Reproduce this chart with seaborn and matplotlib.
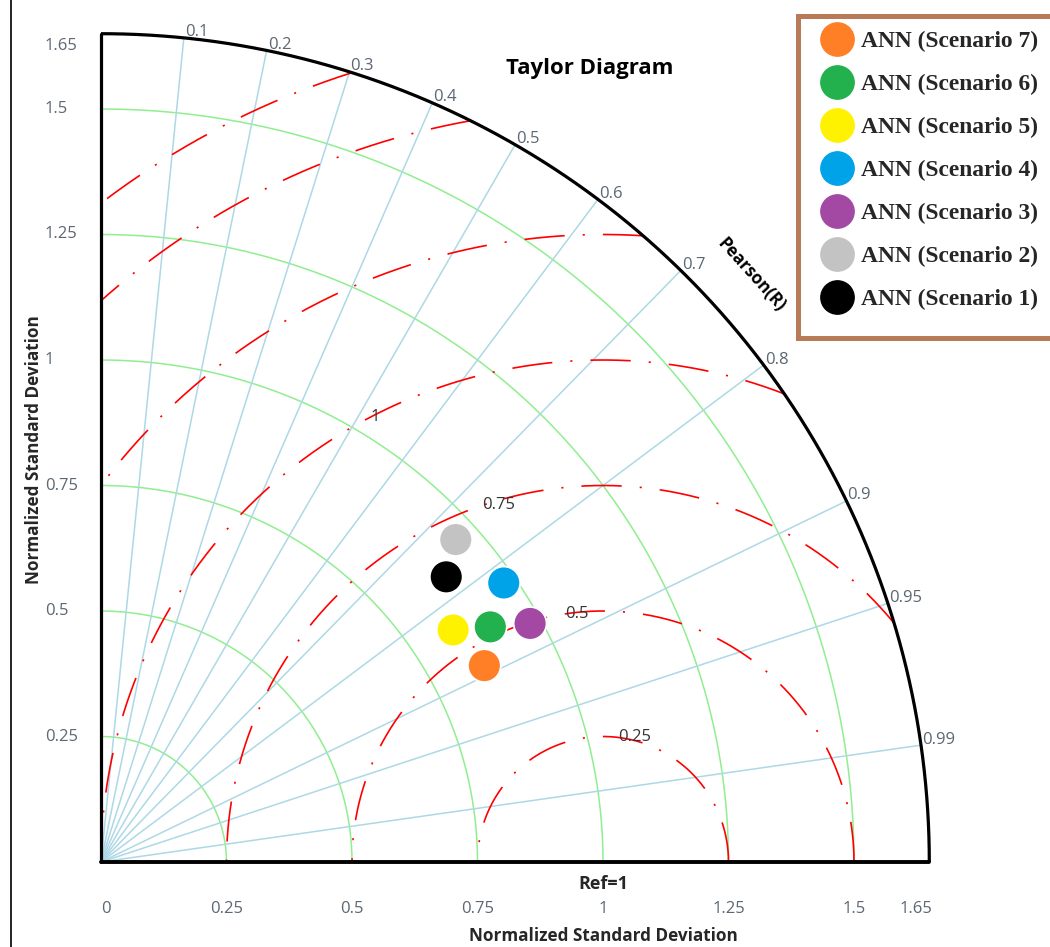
import numpy as np
import pandas as pd
import matplotlib
matplotlib.use("Agg")
import matplotlib.pyplot as plt
import seaborn as sns
from matplotlib.lines import Line2D
from matplotlib.patches import Rectangle
from matplotlib.font_manager import FontProperties

# ---------------- data ----------------
scenarios = ["ANN (Scenario 7)", "ANN (Scenario 6)", "ANN (Scenario 5)",
             "ANN (Scenario 4)", "ANN (Scenario 3)", "ANN (Scenario 2)",
             "ANN (Scenario 1)"]
std_values = [0.858, 0.906, 0.840, 0.976, 0.978, 0.955, 0.892]
corr_values = [0.890, 0.856, 0.835, 0.822, 0.874, 0.740, 0.771]
colors = ["#ff7f27", "#22b14c", "#fff200", "#00a2e8", "#a349a4", "#c3c3c3", "#000000"]

std_ticks = [0, 0.25, 0.5, 0.75, 1, 1.25, 1.5, 1.65]
std_tick_labels = ["0", "0.25", "0.5", "0.75", "1", "1.25", "1.5", "1.65"]
std_arcs = [0.25, 0.5, 0.75, 1, 1.25, 1.5]
corr_ticks = [0.1, 0.2, 0.3, 0.4, 0.5, 0.6, 0.7, 0.8, 0.9, 0.95, 0.99]
corr_tick_labels = ["0.1", "0.2", "0.3", "0.4", "0.5", "0.6", "0.7", "0.8", "0.9", "0.95", "0.99"]
rms_levels = [0.25, 0.5, 0.75, 1, 1.25, 1.5, 1.65]
rms_labeled = [0.25, 0.5, 0.75, 1]
rms_label_text = ["0.25", "0.5", "0.75", "1"]
rms_label_angle = [83, 98.6, 108.7, 117.6]  # degrees around reference point
ref_std = 1.0
max_std = 1.65

# ---------------- style ----------------
sns.set_theme(style="white")
plt.rcParams["font.family"] = ["Open Sans", "DejaVu Sans"]
plt.rcParams["lines.scale_dashes"] = False

W, H = 1050, 947
fig = plt.figure(figsize=(W / 100, H / 100), dpi=100)
ax = fig.add_axes([0, 0, 1, 1])
ox, oy, sc = 101, 862, 502.0

tick_color = "#5b6773"
green = "#90ee90"
blue = "#add8e6"
tick_fs = 12

theta = np.linspace(0, np.pi / 2, 400)
# std arcs
for r in std_arcs:
    ax.plot(r * np.cos(theta), r * np.sin(theta), color=green, lw=1.1, zorder=1)

# correlation lines
for c, lab in zip(corr_ticks, corr_tick_labels):
    t = np.arccos(c)
    ax.plot([0, max_std * np.cos(t)], [0, max_std * np.sin(t)], color=blue, lw=1.1, zorder=1)
    ax.text(max_std * np.cos(t) + 0.002, max_std * np.sin(t) - 0.005, lab, ha="left", va="bottom",
            fontsize=tick_fs, color=tick_color, zorder=6)

# RMS arcs
phi = np.linspace(0, np.pi, 1500)
for r in rms_levels:
    x = ref_std + r * np.cos(phi)
    y = r * np.sin(phi)
    m = (x >= 0) & (x ** 2 + y ** 2 <= max_std ** 2)
    x = np.where(m, x, np.nan)
    y = np.where(m, y, np.nan)
    ax.plot(x, y, color="red", lw=1.2, dashes=(29, 13, 1.5, 13), zorder=2)
for r, lab, a in zip(rms_labeled, rms_label_text, rms_label_angle):
    aa = np.deg2rad(a)
    ax.text(ref_std + r * np.cos(aa), r * np.sin(aa), lab, ha="left", va="center",
            fontsize=tick_fs, color="#333333", zorder=6)

# outer arc and axes
ax.plot(max_std * np.cos(theta), max_std * np.sin(theta), color="black", lw=2.3, zorder=3,
        solid_capstyle="butt")
ax.plot([0, 0], [0, max_std], color="black", lw=2.3, zorder=3)
ax.plot([0, max_std], [0, 0], color="black", lw=2.8, zorder=3)

# std tick labels
for v, lab in zip(std_ticks, std_tick_labels):
    ha = "center"
    dx = 0
    if v == 0:
        ha = "left"
    if v == max_std:
        ha = "right"
        dx = 0.006
    ax.text(v + dx, -0.0936, lab, ha=ha, va="center", fontsize=tick_fs, color=tick_color)
    if v > 0:
        dy = -0.024 if v == max_std else 0
        ax.text(-0.1116, v + dy, lab, ha="left", va="center", fontsize=tick_fs, color=tick_color)

# points
df = pd.DataFrame({"scenario": scenarios, "std": std_values, "corr": corr_values})
df["x"] = df["std"] * df["corr"]
df["y"] = df["std"] * np.sqrt(1 - df["corr"] ** 2)
sns.scatterplot(data=df, x="x", y="y", hue="scenario", hue_order=scenarios,
                palette=dict(zip(scenarios, colors)), s=560, edgecolor="white",
                linewidth=1.3, legend=False, zorder=5, ax=ax)
ax.set_xlim(-ox / sc, (W - ox) / sc)
ax.set_ylim(-(H - oy) / sc, oy / sc)
ax.axis("off")

# texts
ax.text(0.974, 1.580, "Taylor Diagram", ha="center", va="center", fontsize=16,
        fontweight="bold", color="black")
pa = np.deg2rad(42.1)
ax.text(1.745 * np.cos(pa), 1.745 * np.sin(pa), "Pearson(R)", ha="center", va="center",
        rotation=-47.9, rotation_mode="anchor", fontsize=12.3, fontweight="bold", color="black")
ax.text(1.0, -0.0438, "Ref=1", ha="center", va="center", fontsize=13, fontweight="bold")
ax.text(1.0, -0.1474, "Normalized Standard Deviation", ha="center", va="center",
        fontsize=12.3, fontweight="bold")
ax.text(-0.1335, 0.8207, "Normalized Standard Deviation", ha="center", va="center",
        rotation=90, fontsize=12.3, fontweight="bold")

# left border line of the screenshot
fig.add_artist(Line2D([10.5 / W, 10.5 / W], [0, 1], color="black", lw=1.2))

# legend box
fig.add_artist(Rectangle((797.5 / W, 1 - 338.5 / H), (1070 - 797.5) / W, (338.5 - 16.5) / H,
                         facecolor="white", edgecolor="#b97a57", lw=3.6, zorder=10,
                         transform=fig.transFigure, clip_on=False))
handles = [Line2D([], [], marker="o", linestyle="", markersize=24, markerfacecolor=c,
                  markeredgecolor=c) for c in colors]
legend_font = FontProperties(family="Liberation Serif", weight="bold", size=16.9)
leg = fig.legend(handles, scenarios, loc="upper left",
                 bbox_to_anchor=(812 / W, 1 - 19 / H), bbox_transform=fig.transFigure,
                 frameon=False, borderpad=0, handlelength=1.13, handletextpad=0.47,
                 labelspacing=0.92, prop=legend_font)
leg.set_zorder(11)

fig.savefig("out.png", dpi=100)
